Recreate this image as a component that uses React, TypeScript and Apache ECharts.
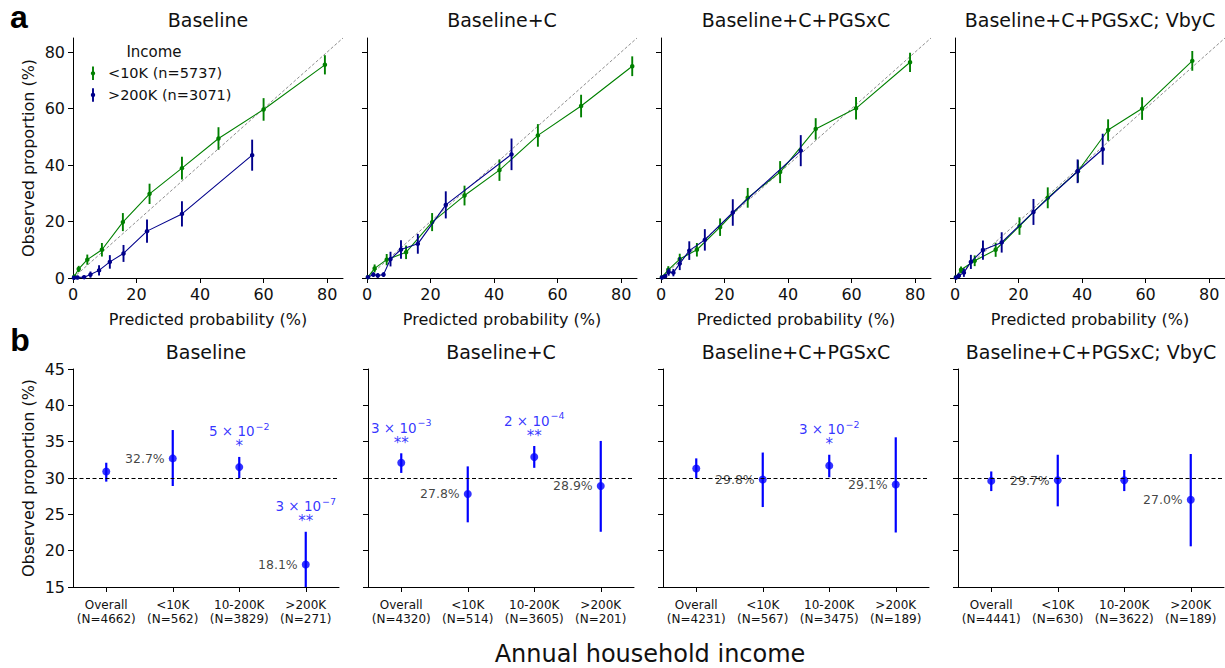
import React, { useEffect, useRef } from "react";
import * as echarts from "echarts";

// ---------- shared labels ----------
const panelTitles = ["Baseline", "Baseline+C", "Baseline+C+PGSxC", "Baseline+C+PGSxC; VbyC"];
const probTicks = [0, 20, 40, 60, 80];
const diagonal = [0, 85];
const legendTitle = "Income";
const legendLow = "<10K (n=5737)";
const legendHigh = ">200K (n=3071)";

// ---------- (a) calibration, income <10K ----------
const predLow = [
  [0.4, 1.8, 4.5, 9.1, 15.7, 24.1, 34.3, 45.8, 60.0, 79.3],
  [0.3, 2.4, 6.2, 12.3, 20.5, 30.7, 41.7, 53.8, 67.4, 83.5],
  [0.3, 2.3, 5.9, 11.3, 18.6, 27.3, 37.5, 48.7, 61.4, 78.4],
  [0.3, 1.9, 6.2, 12.8, 20.3, 29.2, 38.7, 48.2, 58.9, 74.7],
];
const obsLow = [
  [0.5, 3.2, 6.5, 10.0, 19.8, 29.8, 38.9, 49.4, 59.7, 75.5],
  [0.3, 3.4, 6.5, 9.1, 19.8, 29.2, 38.2, 50.5, 60.9, 75.0],
  [0.3, 2.9, 6.7, 10.0, 18.0, 28.4, 37.5, 52.8, 60.1, 76.4],
  [0.3, 2.9, 6.1, 10.0, 18.4, 28.4, 37.8, 52.4, 60.0, 76.9],
];
const errLow = [
  [0.4, 1.1, 1.8, 2.4, 3.2, 3.6, 4.0, 4.0, 4.0, 3.4],
  [0.3, 1.4, 2.0, 2.4, 3.2, 3.5, 3.8, 4.0, 4.0, 3.5],
  [0.3, 1.3, 1.9, 2.4, 3.1, 3.5, 3.9, 3.8, 4.0, 3.4],
  [0.3, 1.2, 1.9, 2.5, 3.1, 3.7, 3.9, 3.8, 4.0, 3.5],
];

// ---------- (a) calibration, income >200K ----------
const predHigh = [
  [0.3, 1.4, 3.5, 5.5, 8.2, 11.6, 15.9, 23.3, 34.3, 56.4],
  [0.3, 2.0, 3.4, 5.2, 7.4, 10.7, 16.0, 24.8, 45.5],
  [0.3, 1.3, 2.4, 3.9, 5.9, 8.9, 13.8, 22.6, 44.0],
  [0.3, 1.2, 2.8, 5.0, 8.8, 14.7, 24.7, 38.6, 46.5],
];
const obsHigh = [
  [0.1, 0.2, 0.3, 1.2, 2.7, 5.7, 8.7, 16.6, 22.7, 43.5],
  [0.3, 1.2, 0.9, 1.2, 6.7, 10.1, 12.1, 25.9, 43.8],
  [0.2, 0.6, 2.1, 1.9, 5.1, 9.7, 13.5, 23.2, 45.1],
  [0.2, 0.8, 1.9, 5.7, 9.9, 12.6, 23.4, 37.8, 45.6],
];
const errHigh = [
  [0.2, 0.3, 0.5, 1.1, 1.8, 2.4, 3.0, 4.1, 4.5, 5.5],
  [0.3, 0.8, 0.8, 0.8, 2.6, 3.3, 3.5, 4.8, 5.6],
  [0.2, 0.6, 1.3, 1.3, 2.3, 3.3, 3.8, 4.7, 5.5],
  [0.2, 0.8, 1.5, 2.5, 3.4, 3.6, 4.6, 4.2, 5.5],
];

// ---------- (b) observed proportion by income ----------
const incomeGroups = ["Overall", "<10K", "10-200K", ">200K"];
const groupN = [
  [4662, 562, 3829, 271],
  [4320, 514, 3605, 201],
  [4231, 567, 3475, 189],
  [4441, 630, 3622, 189],
];
const propMean = [
  [30.9, 32.7, 31.5, 18.1],
  [32.1, 27.8, 32.9, 28.9],
  [31.3, 29.8, 31.7, 29.1],
  [29.6, 29.7, 29.7, 27.0],
];
const propLo = [
  [29.5, 28.9, 30.0, 14.5],
  [30.7, 23.9, 31.4, 22.6],
  [30.0, 26.0, 30.1, 22.5],
  [28.2, 26.1, 28.2, 20.6],
];
const propHi = [
  [32.1, 36.6, 32.9, 22.6],
  [33.4, 31.6, 34.4, 35.1],
  [32.7, 33.5, 33.2, 35.6],
  [30.9, 33.2, 31.1, 33.3],
];
// p-values as [mantissa, exponent]; empty mantissa means no annotation
const pMantissa = [
  ["", "", "5", "3"],
  ["3", "", "2", ""],
  ["", "", "3", ""],
  ["", "", "", ""],
];
const pExponent = [
  ["", "", "−2", "−7"],
  ["−3", "", "−4", ""],
  ["", "", "−2", ""],
  ["", "", "", ""],
];
const starText = [
  ["", "", "*", "**"],
  ["**", "", "**", ""],
  ["", "", "*", ""],
  ["", "", "", ""],
];
const labelledGroups = [1, 3];
const referenceLevel = 30;

// ---------- styling ----------
const FONT = "DejaVu Sans";
const GREEN = "#008000";
const NAVY = "#00008b";
const BLUE = "#0000ff";
const INK = "#111111";

const topLeft = [73, 367, 661, 955];
const TOP_Y = 38;
const TOP_W = 270;
const TOP_H = 240;
const botLeft = [73, 368, 663, 958];
const BOT_Y = 369;
const BOT_W = 266;
const BOT_H = 218;

function errorBarRenderer(color: string, width: number) {
  return (params: any, api: any) => {
    const x = api.value(0);
    const p1 = api.coord([x, api.value(2)]);
    const p2 = api.coord([x, api.value(3)]);
    const cs = params.coordSys;
    const clamp = (v: number) => Math.min(cs.y + cs.height, Math.max(cs.y, v));
    return {
      type: "line",
      shape: { x1: p1[0], y1: clamp(p1[1]), x2: p2[0], y2: clamp(p2[1]) },
      style: { stroke: color, lineWidth: width },
    };
  };
}

function buildOption() {
  const grid: any[] = [];
  const xAxis: any[] = [];
  const yAxis: any[] = [];
  const series: any[] = [];
  const graphic: any[] = [];

  const axisLine = { show: true, onZero: false, lineStyle: { color: "#000", width: 1 } };
  const tick = { show: true, length: 5, inside: false, lineStyle: { color: "#000", width: 1 } };
  const nameStyle = { fontSize: 16, fontFamily: FONT, color: INK };

  // ----- panel row (a) -----
  topLeft.forEach((left, i) => {
    grid.push({ left, top: TOP_Y, width: TOP_W, height: TOP_H });
    xAxis.push({
      type: "value",
      gridIndex: i,
      min: diagonal[0],
      max: diagonal[1],
      axisLine,
      axisTick: { ...tick, customValues: probTicks },
      axisLabel: { customValues: probTicks, fontSize: 16, fontFamily: FONT, color: INK, margin: 8 },
      splitLine: { show: false },
      name: "Predicted probability (%)",
      nameLocation: "middle",
      nameGap: 33,
      nameTextStyle: nameStyle,
    });
    yAxis.push({
      type: "value",
      gridIndex: i,
      min: diagonal[0],
      max: diagonal[1],
      axisLine,
      axisTick: { ...tick, customValues: probTicks },
      axisLabel: { show: i === 0, customValues: probTicks, fontSize: 16, fontFamily: FONT, color: INK, margin: 8 },
      splitLine: { show: false },
      name: i === 0 ? "Observed proportion (%)" : "",
      nameLocation: "middle",
      nameGap: 37,
      nameTextStyle: nameStyle,
    });

    series.push({
      type: "line",
      xAxisIndex: i,
      yAxisIndex: i,
      data: [
        [diagonal[0], diagonal[0]],
        [diagonal[1], diagonal[1]],
      ],
      symbol: "none",
      silent: true,
      lineStyle: { color: "#808080", width: 0.9, type: [3, 2] },
      z: 1,
    });

    const groups = [
      { xs: predLow[i], ys: obsLow[i], es: errLow[i], color: GREEN },
      { xs: predHigh[i], ys: obsHigh[i], es: errHigh[i], color: NAVY },
    ];
    groups.forEach((g, k) => {
      series.push({
        type: "line",
        xAxisIndex: i,
        yAxisIndex: i,
        data: g.xs.map((x, j) => [x, g.ys[j]]),
        symbol: "circle",
        symbolSize: 4.5,
        showSymbol: true,
        lineStyle: { color: g.color, width: 1.1 },
        itemStyle: { color: g.color },
        z: 3 + k * 2,
      });
      series.push({
        type: "custom",
        xAxisIndex: i,
        yAxisIndex: i,
        renderItem: errorBarRenderer(g.color, 1.9),
        encode: { x: 0, y: 1 },
        data: g.xs.map((x, j) => [x, g.ys[j], g.ys[j] - g.es[j], g.ys[j] + g.es[j]]),
        z: 4 + k * 2,
      });
    });

    graphic.push({
      type: "text",
      x: left + TOP_W / 2,
      y: 20,
      style: { text: panelTitles[i], fontSize: 19, fontFamily: FONT, fill: INK, align: "center", verticalAlign: "middle" },
    });
  });

  // ----- panel row (b) -----
  botLeft.forEach((left, i) => {
    const gi = 4 + i;
    grid.push({ left, top: BOT_Y, width: BOT_W, height: BOT_H });
    xAxis.push({
      type: "category",
      gridIndex: gi,
      data: incomeGroups.map((g, j) => `${g}\n(N=${groupN[i][j]})`),
      boundaryGap: true,
      axisLine,
      axisTick: { ...tick, alignWithLabel: true },
      axisLabel: { interval: 0, fontSize: 12, lineHeight: 14, fontFamily: FONT, color: INK, margin: 11 },
      splitLine: { show: false },
    });
    yAxis.push({
      type: "value",
      gridIndex: gi,
      min: 15,
      max: 45,
      interval: 5,
      axisLine,
      axisTick: tick,
      axisLabel: { show: i === 0, fontSize: 16, fontFamily: FONT, color: INK, margin: 8 },
      splitLine: { show: false },
      name: i === 0 ? "Observed proportion (%)" : "",
      nameLocation: "middle",
      nameGap: 37,
      nameTextStyle: nameStyle,
    });

    series.push({
      type: "custom",
      xAxisIndex: gi,
      yAxisIndex: gi,
      renderItem: errorBarRenderer(BLUE, 2.2),
      encode: { x: 0, y: 1 },
      data: incomeGroups.map((_, j) => [j, propMean[i][j], propLo[i][j], propHi[i][j]]),
      z: 3,
    });
    series.push({
      type: "scatter",
      xAxisIndex: gi,
      yAxisIndex: gi,
      symbol: "circle",
      symbolSize: 8,
      itemStyle: { color: BLUE },
      data: incomeGroups.map((_, j) => ({
        value: [j, propMean[i][j]],
        label: {
          show: labelledGroups.includes(j),
          position: "left",
          distance: 4,
          formatter: `${propMean[i][j].toFixed(1)}%`,
          fontSize: 12.5,
          fontFamily: FONT,
          color: "#111",
        },
      })),
      markLine: {
        silent: true,
        symbol: ["none", "none"],
        label: { show: false },
        lineStyle: { color: "#000", width: 1.2, type: [4, 2.5] },
        data: [{ yAxis: referenceLevel }],
      },
      z: 4,
    });
    const notes = incomeGroups
      .map((_, j) => j)
      .filter((j) => pMantissa[i][j] !== "")
      .map((j) => ({
        value: [j, propHi[i][j]],
        label: {
          show: true,
          position: "top",
          distance: 2,
          formatter: `{p|${pMantissa[i][j]} × 10}{e|${pExponent[i][j]}}\n{s|${starText[i][j]}}`,
          rich: {
            p: { fontSize: 13.5, fontFamily: FONT, color: BLUE, lineHeight: 17, verticalAlign: "bottom" },
            e: { fontSize: 9.5, fontFamily: FONT, color: BLUE, lineHeight: 17, padding: [0, 0, 7, 1], verticalAlign: "bottom" },
            s: { fontSize: 15, fontFamily: FONT, color: BLUE, lineHeight: 16 },
          },
        },
      }));
    series.push({
      type: "scatter",
      xAxisIndex: gi,
      yAxisIndex: gi,
      symbolSize: 1,
      silent: true,
      itemStyle: { color: "transparent" },
      data: notes,
      z: 5,
    });

    graphic.push({
      type: "text",
      x: left + BOT_W / 2,
      y: 352,
      style: { text: panelTitles[i], fontSize: 19, fontFamily: FONT, fill: INK, align: "center", verticalAlign: "middle" },
    });
  });

  // ----- panel letters, legend, shared axis title -----
  graphic.push(
    { type: "text", x: 19, y: 17, style: { text: "a", fontSize: 32, fontWeight: "bold", fontFamily: "Liberation Sans", fill: "#000", align: "center", verticalAlign: "middle" } },
    { type: "text", x: 20, y: 340, style: { text: "b", fontSize: 32, fontWeight: "bold", fontFamily: "Liberation Sans", fill: "#000", align: "center", verticalAlign: "middle" } },
    { type: "text", x: 154, y: 52, style: { text: legendTitle, fontSize: 15, fontFamily: FONT, fill: INK, align: "center", verticalAlign: "middle" } },
    { type: "line", shape: { x1: 93, y1: 66.5, x2: 93, y2: 80 }, style: { stroke: GREEN, lineWidth: 1.9 } },
    { type: "circle", shape: { cx: 93, cy: 73.3, r: 2.2 }, style: { fill: GREEN } },
    { type: "text", x: 108, y: 73.3, style: { text: legendLow, fontSize: 14.5, fontFamily: FONT, fill: INK, align: "left", verticalAlign: "middle" } },
    { type: "line", shape: { x1: 93, y1: 88.3, x2: 93, y2: 101.8 }, style: { stroke: NAVY, lineWidth: 1.9 } },
    { type: "circle", shape: { cx: 93, cy: 95, r: 2.2 }, style: { fill: NAVY } },
    { type: "text", x: 108, y: 95, style: { text: legendHigh, fontSize: 14.5, fontFamily: FONT, fill: INK, align: "left", verticalAlign: "middle" } },
    { type: "text", x: 650, y: 654, style: { text: "Annual household income", fontSize: 24, fontFamily: FONT, fill: INK, align: "center", verticalAlign: "middle" } }
  );

  return {
    animation: false,
    backgroundColor: "#ffffff",
    textStyle: { fontFamily: FONT },
    grid,
    xAxis,
    yAxis,
    series,
    graphic,
  };
}

export default function App() {
  const ref = useRef<HTMLDivElement>(null);
  useEffect(() => {
    const chart = echarts.init(ref.current!, null, { renderer: "svg" });
    chart.setOption(buildOption() as any);
    return () => chart.dispose();
  }, []);
  return (
    <div
      ref={ref}
      style={{ position: "absolute", left: 0, top: 0, width: 1225, height: 668, background: "#fff" }}
    />
  );
}
